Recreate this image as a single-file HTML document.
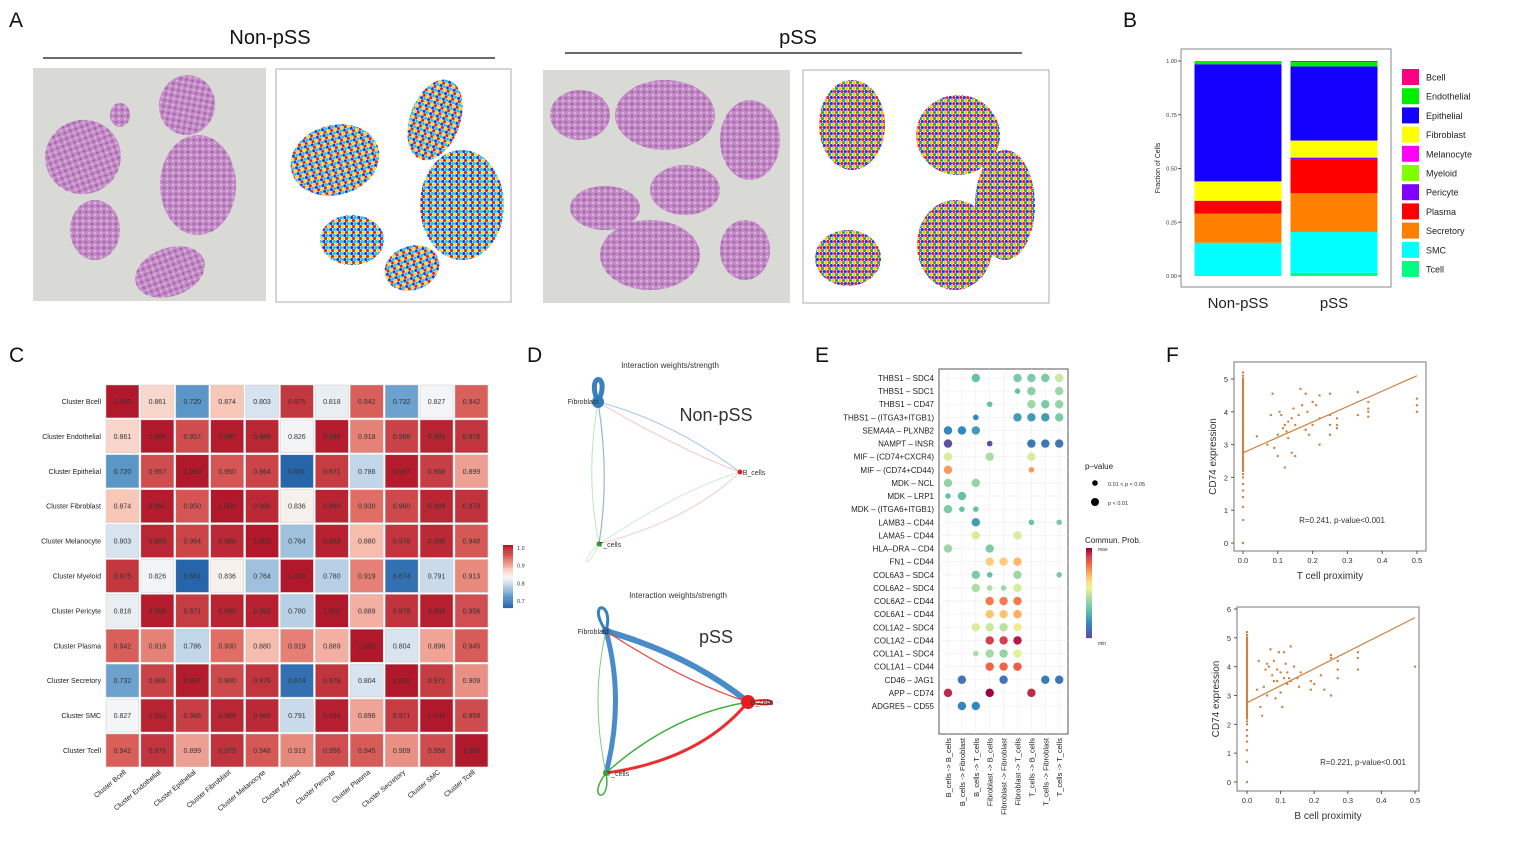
<!DOCTYPE html>
<html><head><meta charset="utf-8"><style>
body{margin:0;background:#fff;font-family:"Liberation Sans",sans-serif}
svg text{font-family:"Liberation Sans",sans-serif}
</style></head><body>
<svg id="fig" width="1518" height="840" viewBox="0 0 1518 840" xmlns="http://www.w3.org/2000/svg">
<defs>
<pattern id="spots" width="7" height="6" patternUnits="userSpaceOnUse">
<rect width="7" height="6" fill="#fff"/>
<circle cx="1.8" cy="1.5" r="1.6" fill="#e0202a"/><circle cx="5.3" cy="1.5" r="1.6" fill="#1d3be0"/>
<circle cx="0" cy="4.5" r="1.6" fill="#f5c400"/><circle cx="3.5" cy="4.5" r="1.6" fill="#2aa84a"/><circle cx="7" cy="4.5" r="1.6" fill="#f5c400"/>
</pattern>
<pattern id="spots2" width="7" height="6" patternUnits="userSpaceOnUse">
<rect width="7" height="6" fill="#fff"/>
<circle cx="1.8" cy="1.5" r="1.6" fill="#1d3be0"/><circle cx="5.3" cy="1.5" r="1.6" fill="#16c8e0"/>
<circle cx="0" cy="4.5" r="1.6" fill="#f0e020"/><circle cx="3.5" cy="4.5" r="1.6" fill="#e0202a"/><circle cx="7" cy="4.5" r="1.6" fill="#f0e020"/>
</pattern>
<pattern id="he" width="6" height="6" patternUnits="userSpaceOnUse">
<rect width="6" height="6" fill="#c48cc6"/><circle cx="2" cy="2" r="1.3" fill="#a060ab"/><circle cx="5" cy="5" r="1" fill="#e2c0e0"/>
</pattern>
</defs>
<g id="panels"></g>
</svg>
<script>
const NS="http://www.w3.org/2000/svg";
const root=document.getElementById('panels');
function mk(tag,attrs,parent,txt){const e=document.createElementNS(NS,tag);for(const k in attrs)e.setAttribute(k,attrs[k]);if(txt!==undefined)e.textContent=txt;(parent||root).appendChild(e);return e;}

// ---------- panel letters ----------
const letters=["A","B","C","D","E","F"];
const letterPos=[[9,27],[1123,27],[9,362],[527,362],[815,362],[1166,362]];
letters.forEach((l,i)=>{const t=mk('text',{x:letterPos[i][0],y:letterPos[i][1],'font-size':21,fill:'#111'},root,l);

});

// ---------- panel A ----------
const gA=mk('g',{});


mk('text',{x:270,y:44,'font-size':20,'text-anchor':'middle',fill:'#111'},gA,'Non-pSS');
mk('line',{x1:43,y1:58,x2:495,y2:58,stroke:'#111','stroke-width':1.2},gA);
mk('text',{x:798,y:44,'font-size':20,'text-anchor':'middle',fill:'#111'},gA,'pSS');
mk('line',{x1:565,y1:53,x2:1022,y2:53,stroke:'#111','stroke-width':1.2},gA);
const boxes=[[33,68,233,233,'#d9d9d6'],[276,69,235,233,'#fff'],[543,70,247,233,'#d9d9d6'],[803,70,246,233,'#fff']];
boxes.forEach(b=>mk('rect',{x:b[0],y:b[1],width:b[2],height:b[3],fill:b[4],stroke:b[4]=='#fff'?'#999':'none','stroke-width':0.8},gA));
function blob(cx,cy,rx,ry,fill,rot){mk('ellipse',{cx,cy,rx,ry,fill,transform:`rotate(${rot||0} ${cx} ${cy})`},gA);}
[[187,105,28,30,10],[83,157,38,37,-20],[198,185,38,50,0],[95,230,25,30,0],[170,272,36,24,-20],[120,115,10,12,0]].forEach(b=>blob(b[0],b[1],b[2],b[3],'url(#he)',b[4]));
[[580,115,30,25,0],[665,115,50,35,0],[750,140,30,40,0],[685,190,35,25,0],[605,208,35,22,0],[650,255,50,35,0],[745,250,25,30,0]].forEach(b=>blob(b[0],b[1],b[2],b[3],'url(#he)',b[4]));
[[335,160,45,35,-15],[435,120,25,42,20],[462,205,42,55,0],[352,240,32,25,0],[412,268,28,22,-20]].forEach(b=>blob(b[0],b[1],b[2],b[3],'url(#spots2)',b[4]));
[[852,125,33,45,0],[958,135,42,40,0],[1005,205,30,55,0],[848,258,33,28,0],[955,245,38,45,0]].forEach(b=>blob(b[0],b[1],b[2],b[3],'url(#spots)',b[4]));

// ---------- panel B (stacked bars) ----------
const bGroups=["Non-pSS","pSS"];
const bTypes=["Bcell","Endothelial","Epithelial","Fibroblast","Melanocyte","Myeloid","Pericyte","Plasma","Secretory","SMC","Tcell"];
const bColors=["#ff0080","#00ee00","#1400ff","#ffff00","#ff00ff","#80ff00","#8000ff","#ff0000","#ff8000","#00ffff","#00ff80"];
const bNon=[0,0.015,0.545,0.09,0,0,0,0.06,0.135,0.155,0];
const bPss=[0.005,0.02,0.345,0.075,0,0.005,0.01,0.155,0.18,0.19,0.015];
const bTicks=[0,0.25,0.5,0.75,1.0];
const gB=mk('g',{});


const bY=v=>276-v*215;
const bX=[1238,1334], bW=87;
mk('rect',{x:1181,y:49,width:210,height:238,fill:'#fff',stroke:'#888','stroke-width':1},gB);
bTicks.forEach(t=>{mk('text',{x:1177,y:bY(t)+2,'font-size':5.5,'text-anchor':'end',fill:'#333'},gB,t.toFixed(2));mk('line',{x1:1178,x2:1181,y1:bY(t),y2:bY(t),stroke:'#555'},gB);});
mk('text',{x:1160,y:168,'font-size':7,'text-anchor':'middle',transform:'rotate(-90 1160 168)',fill:'#222'},gB,'Fraction of Cells');
[bNon,bPss].forEach((vals,gi)=>{let cum=0;for(let i=vals.length-1;i>=0;i--){if(vals[i]<=0)continue;const r=mk('rect',{x:bX[gi]-bW/2,y:bY(cum+vals[i]),width:bW,height:vals[i]*215,fill:bColors[i]},gB);


cum+=vals[i];}
mk('text',{x:bX[gi],y:308,'font-size':15,'text-anchor':'middle',fill:'#222'},gB,bGroups[gi]);});
bTypes.forEach((t,i)=>{const y=69+i*19.2;mk('rect',{x:1402,y:y,width:17,height:16,fill:bColors[i]},gB);
const lt=mk('text',{x:1426,y:y+11.5,'font-size':9,fill:'#222'},gB,t);

});

// ---------- panel C (heatmap) ----------
const cLabels=["Bcell","Endothelial","Epithelial","Fibroblast","Melanocyte","Myeloid","Pericyte","Plasma","Secretory","SMC","Tcell"];
const cRows=[
[1.000,0.861,0.720,0.874,0.803,0.975,0.818,0.942,0.732,0.827,0.942],
[0.861,1.000,0.957,0.997,0.989,0.826,0.996,0.918,0.966,0.991,0.976],
[0.720,0.957,1.000,0.950,0.964,0.661,0.971,0.786,0.997,0.968,0.899],
[0.874,0.997,0.950,1.000,0.986,0.836,0.990,0.930,0.960,0.989,0.979],
[0.803,0.989,0.964,0.986,1.000,0.764,0.993,0.880,0.976,0.986,0.948],
[0.975,0.826,0.661,0.836,0.764,1.000,0.780,0.919,0.674,0.791,0.913],
[0.818,0.996,0.971,0.990,0.993,0.780,1.000,0.889,0.978,0.994,0.956],
[0.942,0.918,0.786,0.930,0.880,0.919,0.889,1.000,0.804,0.896,0.945],
[0.732,0.966,0.997,0.960,0.976,0.674,0.978,0.804,1.000,0.971,0.909],
[0.827,0.991,0.968,0.989,0.986,0.791,0.994,0.896,0.971,1.000,0.958],
[0.942,0.976,0.899,0.979,0.948,0.913,0.956,0.945,0.909,0.958,1.000]];
const cStops=[[0.66,[38,100,170]],[0.72,[90,150,200]],[0.79,[200,218,235]],[0.83,[247,247,247]],[0.87,[250,205,190]],[0.93,[225,110,100]],[1.0,[178,24,43]]];
function cCol(v){if(v<=cStops[0][0])return `rgb(${cStops[0][1]})`;for(let i=1;i<cStops.length;i++){if(v<=cStops[i][0]){const a=cStops[i-1],b=cStops[i],f=(v-a[0])/(b[0]-a[0]);return 'rgb('+a[1].map((c,k)=>Math.round(c+(b[1][k]-c)*f)).join(',')+')';}}return `rgb(${cStops[cStops.length-1][1]})`;}
const gC=mk('g',{});


const cx0=105,cy0=384,cs=34.9;
cRows.forEach((row,r)=>{row.forEach((v,c)=>{const cell=mk('rect',{x:cx0+c*cs+1,y:cy0+r*cs+1,width:cs-2,height:cs-2,fill:cCol(v),stroke:'#ccc','stroke-width':0.5},gC);


mk('text',{x:cx0+c*cs+cs/2,y:cy0+r*cs+cs/2+2.5,'font-size':7,'text-anchor':'middle',fill:'#333'},gC,v.toFixed(3));});
mk('text',{x:101,y:cy0+r*cs+cs/2+2.5,'font-size':7,'text-anchor':'end',fill:'#222'},gC,'Cluster '+cLabels[r]);
const bx=cx0+r*cs+cs/2+4;mk('text',{x:bx,y:773,'font-size':7,'text-anchor':'end',fill:'#222',transform:`rotate(-40 ${bx} 773)`},gC,'Cluster '+cLabels[r]);});
for(let i=0;i<30;i++){mk('rect',{x:503,y:545+i*2.1,width:10,height:2.2,fill:cCol(1.0-i*0.0115)},gC);}
[1.0,0.9,0.8,0.7].forEach((t,i)=>mk('text',{x:517,y:550+i*17.7,'font-size':5.5,fill:'#333'},gC,t.toFixed(1)));

// ---------- panel D (networks) ----------
const gD=mk('g',{fill:'none'});


function nt(x,y,t,sz){mk('text',{x:x,y:y,'font-size':sz||7,'text-anchor':'middle',fill:'#333',stroke:'none'},gD,t);}
// non-pSS
mk('path',{d:'M598 402 C585 372 612 372 598 402',stroke:'#3a80c0','stroke-width':5},gD);
mk('path',{d:'M598 402 Q670 420 740 472',stroke:'#a8c8e8','stroke-width':1},gD);
mk('path',{d:'M598 402 Q680 450 740 472',stroke:'#f4c4c4','stroke-width':1},gD);
mk('path',{d:'M598 402 Q585 475 599 544',stroke:'#c0e4c0','stroke-width':1},gD);
mk('path',{d:'M598 402 Q610 475 599 544',stroke:'#8fb7dc','stroke-width':1.2},gD);
mk('path',{d:'M599 544 Q680 490 740 472',stroke:'#cdeccd','stroke-width':1},gD);
mk('path',{d:'M599 544 Q690 520 740 472',stroke:'#f6caca','stroke-width':1},gD);
mk('path',{d:'M599 544 C580 560 585 575 599 544',stroke:'#cdeccd','stroke-width':1},gD);
mk('circle',{cx:598,cy:402,r:6,fill:'#2f7bbf'},gD);mk('circle',{cx:740,cy:472,r:2.5,fill:'#e02020'},gD);mk('circle',{cx:599,cy:544,r:2.5,fill:'#30a030'},gD);
// pSS
mk('path',{d:'M606 631 C585 600 615 600 606 631',stroke:'#3a80c0','stroke-width':3},gD);
mk('path',{d:'M606 631 Q690 655 748 702',stroke:'#4a8cc8','stroke-width':6},gD);
mk('path',{d:'M606 631 Q680 680 748 702',stroke:'#e84040','stroke-width':1.2},gD);
mk('path',{d:'M606 631 Q625 700 606 773',stroke:'#4a8cc8','stroke-width':5},gD);
mk('path',{d:'M606 631 Q590 700 606 773',stroke:'#80cc80','stroke-width':1},gD);
mk('path',{d:'M606 773 Q670 715 748 702',stroke:'#40b040','stroke-width':1.5},gD);
mk('path',{d:'M606 773 Q700 760 748 702',stroke:'#e83030','stroke-width':3},gD);
mk('path',{d:'M606 773 C585 800 612 805 606 773',stroke:'#40b040','stroke-width':1.5},gD);
mk('path',{d:'M748 702 C780 695 780 710 748 702',stroke:'#e02020','stroke-width':2},gD);
mk('circle',{cx:606,cy:631,r:4,fill:'#2f6fb0'},gD);mk('circle',{cx:748,cy:702,r:7,fill:'#e81c1c'},gD);mk('circle',{cx:606,cy:773,r:3,fill:'#30a030'},gD);
nt(670,368,'Interaction weights/strength',8);nt(678,598,'Interaction weights/strength',8);
nt(716,421,'Non-pSS',18);nt(716,643,'pSS',18);
nt(583,404,'Fibroblast');nt(754,475,'B_cells');nt(610,547,'T_cells');
nt(593,634,'Fibroblast');nt(762,705,'B_cells');nt(618,776,'T_cells');

// ---------- panel E (dot plot) ----------
const eRows=["THBS1 – SDC4","THBS1 – SDC1","THBS1 – CD47","THBS1 – (ITGA3+ITGB1)","SEMA4A – PLXNB2","NAMPT – INSR","MIF – (CD74+CXCR4)","MIF – (CD74+CD44)","MDK – NCL","MDK – LRP1","MDK – (ITGA6+ITGB1)","LAMB3 – CD44","LAMA5 – CD44","HLA–DRA – CD4","FN1 – CD44","COL6A3 – SDC4","COL6A2 – SDC4","COL6A2 – CD44","COL6A1 – CD44","COL1A2 – SDC4","COL1A2 – CD44","COL1A1 – SDC4","COL1A1 – CD44","CD46 – JAG1","APP – CD74","ADGRE5 – CD55"];
const eCols=["B_cells -> B_cells","B_cells -> Fibroblast","B_cells -> T_cells","Fibroblast -> B_cells","Fibroblast -> Fibroblast","Fibroblast -> T_cells","T_cells -> B_cells","T_cells -> Fibroblast","T_cells -> T_cells"];
// each dot: [row, col, prob(0..1), big(1)/small(0)]
const eDots=[
[0,2,.3,1],[0,5,.35,1],[0,6,.35,1],[0,7,.35,1],[0,8,.5,1],
[1,5,.3,0],[1,6,.38,1],[1,8,.42,1],
[2,3,.3,0],[2,6,.42,1],[2,7,.35,1],[2,8,.4,1],
[3,2,.15,0],[3,5,.2,1],[3,6,.2,1],[3,7,.2,1],[3,8,.35,1],
[4,0,.15,1],[4,1,.15,1],[4,2,.2,1],
[5,0,0,1],[5,3,0,0],[5,6,.1,1],[5,7,.1,1],[5,8,.1,1],
[6,0,.52,1],[6,3,.45,1],[6,6,.52,1],
[7,0,.75,1],[7,6,.75,0],
[8,0,.4,1],[8,2,.4,1],
[9,0,.3,0],[9,1,.3,1],
[10,0,.35,1],[10,1,.3,0],[10,2,.3,0],
[11,2,.2,1],[11,6,.3,0],[11,8,.35,0],
[12,2,.52,1],[12,5,.52,1],
[13,0,.42,1],[13,3,.35,1],
[14,3,.66,1],[14,4,.66,1],[14,5,.7,1],
[15,2,.35,1],[15,3,.3,0],[15,5,.42,1],[15,8,.35,0],
[16,2,.45,1],[16,3,.45,0],[16,4,.42,0],[16,5,.52,1],
[17,3,.8,1],[17,4,.8,1],[17,5,.8,1],
[18,3,.68,1],[18,4,.68,1],[18,5,.72,1],
[19,2,.52,1],[19,3,.5,1],[19,4,.47,1],[19,5,.58,1],
[20,3,.92,1],[20,4,.92,1],[20,5,.97,1],
[21,2,.45,0],[21,3,.43,1],[21,4,.4,1],[21,5,.54,1],
[22,3,.84,1],[22,4,.84,1],[22,5,.85,1],
[23,1,.1,1],[23,4,.1,1],[23,7,.12,1],[23,8,.1,1],
[24,0,.95,1],[24,3,1,1],[24,6,.95,1],
[25,1,.15,1],[25,2,.15,1]];
const spec=[[0,[94,79,162]],[0.15,[50,136,189]],[0.3,[102,194,165]],[0.45,[171,221,164]],[0.55,[230,245,152]],[0.62,[254,224,139]],[0.72,[253,174,97]],[0.82,[244,109,67]],[0.92,[213,62,79]],[1,[158,1,66]]];
function sCol(v){for(let i=1;i<spec.length;i++){if(v<=spec[i][0]){const a=spec[i-1],b=spec[i],f=(v-a[0])/(b[0]-a[0]);return 'rgb('+a[1].map((c,k)=>Math.round(c+(b[1][k]-c)*f)).join(',')+')';}}return 'rgb(158,1,66)';}
const gE=mk('g',{});


const eX=c=>948+c*13.9, eY=r=>378+r*13.12;
mk('rect',{x:939,y:369,width:129,height:365,fill:'#fff',stroke:'#555','stroke-width':1},gE);
eCols.forEach((c,i)=>{mk('line',{x1:eX(i),x2:eX(i),y1:369,y2:734,stroke:'#eee','stroke-width':0.6},gE);
mk('text',{x:eX(i)+3,y:738,'font-size':7.5,'text-anchor':'end',fill:'#222',transform:`rotate(-90 ${eX(i)+3} 738)`},gE,c);});
eRows.forEach((r,i)=>{mk('line',{x1:939,x2:1068,y1:eY(i),y2:eY(i),stroke:'#eee','stroke-width':0.6},gE);
mk('text',{x:934,y:eY(i)+3,'font-size':8,'text-anchor':'end',fill:'#222'},gE,r);});
eDots.forEach(d=>{const c=mk('circle',{cx:eX(d[1]),cy:eY(d[0]),r:d[3]?4.2:2.8,fill:sCol(d[2])},gE);

});
mk('text',{x:1085,y:469,'font-size':8,fill:'#222'},gE,'p–value');
mk('circle',{cx:1095,cy:483,r:2.8,fill:'#000'},gE);mk('text',{x:1108,y:486,'font-size':5.5,fill:'#333'},gE,'0.01 < p < 0.05');
mk('circle',{cx:1095,cy:502,r:4,fill:'#000'},gE);mk('text',{x:1108,y:505,'font-size':5.5,fill:'#333'},gE,'p < 0.01');
mk('text',{x:1085,y:543,'font-size':8,fill:'#222'},gE,'Commun. Prob.');
for(let i=0;i<45;i++){mk('rect',{x:1086,y:548+i*2,width:6,height:2.1,fill:sCol(1-i/44)},gE);}
mk('text',{x:1098,y:551,'font-size':5,fill:'#333'},gE,'max');mk('text',{x:1098,y:645,'font-size':5,fill:'#333'},gE,'min');

// ---------- panel F (scatter) ----------
const fZeroT=[0,0.7,1.1,1.4,1.6,1.8,2.0,2.1,2.2,2.3,2.4,2.5,2.6,2.7,2.8,2.9,3.0,3.1,3.2,3.3,3.4,3.5,3.6,3.7,3.8,3.9,4.0,4.1,4.2,4.3,4.4,4.5,4.6,4.7,4.8,4.9,5.0,5.1,5.2];
const fTx=[0.04,0.07,0.08,0.085,0.09,0.1,0.1,0.105,0.11,0.115,0.12,0.12,0.125,0.13,0.13,0.14,0.14,0.145,0.15,0.15,0.16,0.165,0.17,0.18,0.18,0.185,0.19,0.2,0.2,0.21,0.22,0.22,0.22,0.25,0.25,0.25,0.25,0.27,0.27,0.27,0.33,0.33,0.36,0.36,0.36,0.36,0.5,0.5,0.5];
const fTy=[3.25,3.0,3.9,4.55,2.9,3.3,2.65,4.0,3.9,3.5,2.3,3.6,3.4,3.7,3.2,3.8,2.75,4.1,3.6,2.65,3.9,4.7,4.2,3.45,4.55,4.0,3.3,3.6,4.3,4.2,3.0,3.8,4.5,3.3,3.6,3.9,4.55,3.6,3.8,3.5,4.6,3.9,3.85,4.0,4.1,4.3,4.0,4.2,4.4];
const fZeroB=[0,0.7,1.1,1.4,1.6,1.8,2.0,2.1,2.2,2.3,2.4,2.5,2.6,2.7,2.8,2.9,3.0,3.1,3.2,3.3,3.4,3.5,3.6,3.7,3.8,3.9,4.0,4.1,4.2,4.3,4.4,4.5,4.6,4.7,4.8,4.9,5.0,5.1,5.2];
const fBx=[0.03,0.035,0.04,0.045,0.05,0.055,0.06,0.06,0.065,0.07,0.075,0.08,0.08,0.085,0.09,0.09,0.095,0.1,0.1,0.105,0.11,0.11,0.115,0.12,0.12,0.125,0.13,0.13,0.14,0.15,0.155,0.16,0.19,0.19,0.2,0.22,0.23,0.25,0.25,0.25,0.27,0.27,0.27,0.33,0.33,0.33,0.5];
const fBy=[3.2,4.2,2.6,2.3,3.3,3.9,4.1,3.0,4.0,4.6,3.7,3.5,4.2,2.9,3.9,3.5,4.5,3.1,3.8,2.6,3.6,4.5,4.1,3.4,3.8,3.6,4.7,3.5,4.0,3.6,3.3,3.8,3.5,3.2,3.4,3.7,3.2,3.0,4.3,4.4,3.6,3.9,4.2,3.9,4.3,4.5,4.0];
function scatter(name,box,xs,ys,zeros,ymax,yticks,fit,xl,rl,rx,ry){
  const g=mk('g',{});
  
  
  const [L,T,R,B,x0,x5,y0,yTop]=box;
  const X=v=>x0+(x5-x0)*v/0.5, Y=v=>y0-(y0-yTop)*v/ymax;
  mk('rect',{x:L,y:T,width:R-L,height:B-T,fill:'#fff',stroke:'#777','stroke-width':1},g);
  [0,0.1,0.2,0.3,0.4,0.5].forEach(t=>{mk('line',{x1:X(t),x2:X(t),y1:B,y2:B+3,stroke:'#555'},g);mk('text',{x:X(t),y:B+12,'font-size':7.5,'text-anchor':'middle',fill:'#333'},g,t.toFixed(1));});
  yticks.forEach(t=>{mk('line',{x1:L-3,x2:L,y1:Y(t),y2:Y(t),stroke:'#555'},g);mk('text',{x:L-6,y:Y(t)+3,'font-size':7.5,'text-anchor':'end',fill:'#333'},g,t);});
  zeros.forEach(v=>mk('circle',{cx:X(0),cy:Y(v),r:1.2,fill:'#d08040'},g));
  mk('line',{x1:X(0),x2:X(0),y1:Y(2.2),y2:Y(5.05),stroke:'#d08040','stroke-width':2},g);
  xs.forEach((x,i)=>{const p=mk('circle',{cx:X(x),cy:Y(ys[i]),r:1.2,fill:'#d08040'},g);
  
  });
  mk('line',{x1:X(0),y1:Y(fit[0]),x2:X(0.5),y2:Y(fit[1]),stroke:'#d08040','stroke-width':1.2},g);
  mk('text',{x:(L+R)/2,y:B+28,'font-size':10,'text-anchor':'middle',fill:'#333'},g,xl);
  mk('text',{x:L-18,y:(T+B)/2,'font-size':10,'text-anchor':'middle',fill:'#333',transform:`rotate(-90 ${L-18} ${(T+B)/2})`},g,'CD74 expression');
  mk('text',{x:rx,y:ry,'font-size':8,'text-anchor':'middle',fill:'#333'},g,rl);
}
scatter('panel-f-tcell-scatter',[1234,362,1426,551,1243,1417,543,379],fTx,fTy,fZeroT,5,[0,1,2,3,4,5],[2.75,5.1],'T cell proximity','R=0.241, p-value<0.001',1342,523);
scatter('panel-f-bcell-scatter',[1237,607,1419,791,1247,1415,782,609],fBx,fBy,fZeroB,6,[0,1,2,3,4,5,6],[2.75,5.7],'B cell proximity','R=0.221, p-value<0.001',1363,765);
</script>
</body></html>
